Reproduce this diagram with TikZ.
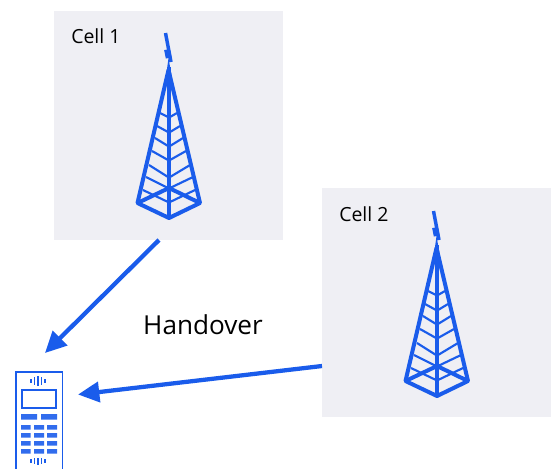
\documentclass[tikz,border=0pt]{standalone}
\usepackage{fontspec}
\setmainfont{Open Sans}
\usetikzlibrary{arrows.meta}
\definecolor{cellbg}{HTML}{EFEFF4}
\definecolor{blu}{HTML}{1A5CEB}
\tikzset{
  x=0.75pt,y=-0.75pt,
  cellbox/.style={fill=cellbg,draw=none,minimum width=172pt-0.25pt,minimum height=172pt-0.25pt,inner sep=0pt,anchor=north west},
  celltxt/.style={font=\fontsize{14.6pt}{16pt}\selectfont,text=black,inner sep=0pt,anchor=west},
  bigtxt/.style={font=\fontsize{19.6pt}{22pt}\selectfont,text=black,inner sep=0pt},
  link/.style={draw=blu,line width=3.2pt,-{Triangle[length=16pt,width=15pt]}},
  heavy/.style={draw=blu,line width=3pt,line join=round},
  thin rung/.style={draw=blu,line width=1.6pt},
  key/.style={fill=blu!90!white,draw=none},
}
\newcommand{\mytower}[1]{%
\begin{scope}[shift={#1}]
  \draw[thin rung] (160,113)--(168,117) (157,126)--(168,132) (155,138)--(168,146)
    (152,151)--(168,160) (149,165)--(168,177) (146,177)--(168,188) (143,190)--(168,202);
  \draw[thin rung] (177,113)--(170,117) (180,126)--(170,132) (183,138)--(170,146)
    (186,151)--(170,160) (190,165)--(170,177) (193,177)--(170,188) (195,190)--(170,202);
  \draw[heavy] (168.5,70)--(137.5,203)--(169,218)--(200,203)--cycle;
  \draw[heavy] (137.5,203)--(169,188)--(200,203);
  \draw[draw=blu,line width=3.6pt] (169,67)--(169,218);
  \draw[draw=blu,line width=2.6pt] (165.5,33)--(171,62);
  \draw[draw=blu,line width=4.4pt] (167,49.5)--(168.7,58);
  \fill[blu] (168.5,58)--(165.8,78)--(172,78)--cycle;
\end{scope}}
\begin{document}
\begin{tikzpicture}
\useasboundingbox[fill=white] (0,0) rectangle (552,468);
\node[cellbox] (c1) at (54,11) {};
\node[cellbox] (c2) at (322,188) {};
\node[celltxt] (t1) at (71,36) {Cell 1};
\node[celltxt] (t2) at (339,214) {Cell 2};
\mytower{(0,0)}
\mytower{(268,178)}
\node[bigtxt] (h) at (203,325) {Handover};
\begin{scope}
\clip (0,0) rectangle (552,468);
\node[draw=blu,line width=1.3pt,minimum width=35pt,minimum height=90pt,inner sep=0pt,anchor=north west] (ph) at (15,371) {};
\draw[draw=blu,line width=1.3pt] (22,390) rectangle (56,408);
\foreach \x/\a/\b in {31/379/383,34.5/377/385,38/376/385.5,41.5/377/385,45/379/383}
  \draw[draw=blu,line width=0.9pt] (\x,\a)--(\x,\b);
\foreach \x/\a/\b in {31/459/463,34.5/458/464,38/458/465,41.5/458/464,45/459/463}
  \draw[draw=blu,line width=0.9pt] (\x,\a)--(\x,\b);
\fill[key] (21,414) rectangle (37,419.5) (41,414) rectangle (57,419.5);
\foreach \y in {425,433,441,449}
  \fill[key] (21,\y) rectangle (30.5,\y+4.5) (34,\y) rectangle (44,\y+4.5) (47,\y) rectangle (57,\y+4.5);
\end{scope}
\coordinate (a1s) at (159,240);
\coordinate (a1e) at (45,353);
\coordinate (a2s) at (322,366);
\coordinate (a2e) at (78,394.5);
\draw[link] (a1s)--(a1e);
\draw[link] (a2s)--(a2e);
\end{tikzpicture}
\end{document}
